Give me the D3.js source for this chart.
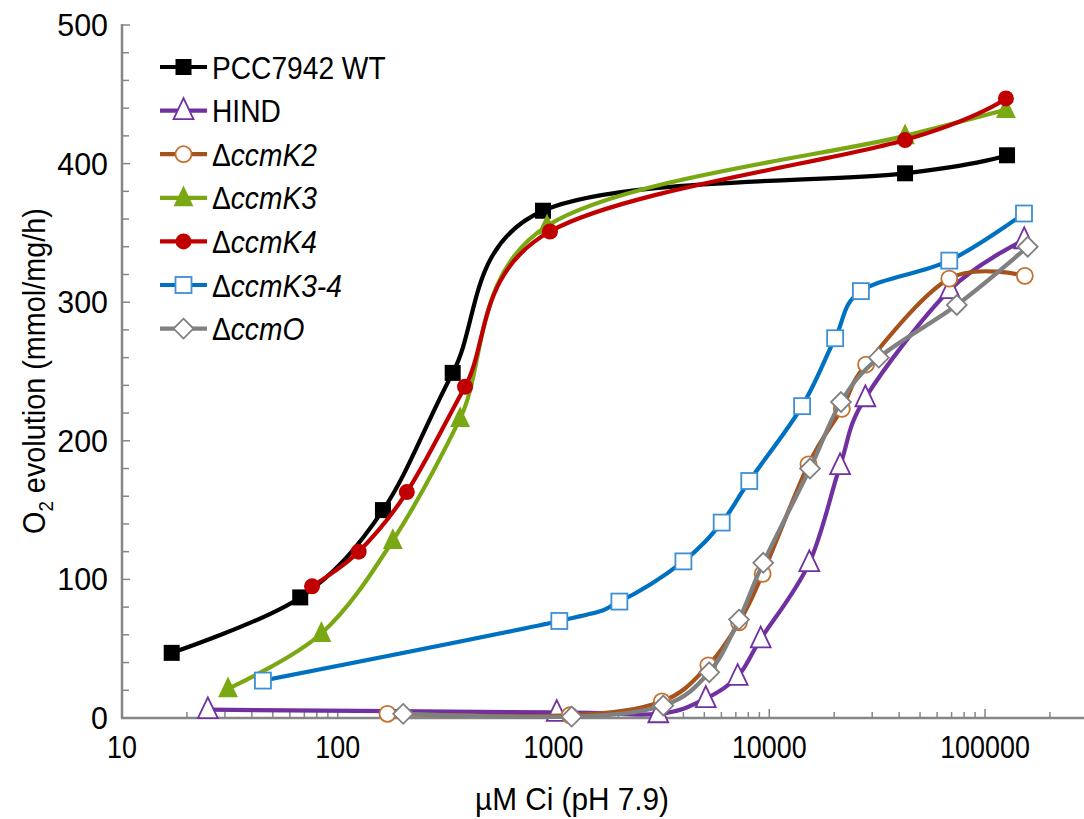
<!DOCTYPE html>
<html>
<head>
<meta charset="utf-8">
<script src="https://cdnjs.cloudflare.com/ajax/libs/d3/7.8.5/d3.min.js"></script>
<style>
  html, body { margin: 0; padding: 0; background: #fff; }
  svg { display: block; font-family: "Liberation Sans", Arial, sans-serif; }
</style>
</head>
<body>
<div id="chart"></div>
<script>
(function() {

    // values (x = uM Ci, y = O2 evolution)
    var wtX = [17, 67, 162, 341, 894, 42600, 126500];
    var wtY = [47, 87, 150, 249, 366, 393, 406];

    var hindX = [25, 1035, 3060, 5080, 7140, 9130, 15340, 21300, 27900, 68800, 152000];
    var hindY = [6, 4, 3, 14, 30, 57, 112, 182, 231, 309, 345];

    var k2X = [170, 1190, 3180, 5220, 7240, 9320, 15200, 21700, 28100, 68300, 153000];
    var k2Y = [3, 2, 12, 38, 69, 104, 183, 223, 255, 317, 319];

    var k3X = [31, 84, 180, 369, 933, 42600, 125000];
    var k3Y = [21, 61, 128, 216, 355, 420, 439];

    var k4X = [76, 125, 209, 389, 963, 42600, 125000];
    var k4Y = [95, 120, 163, 239, 351, 417, 447];

    var k34X = [45, 1064, 2020, 4000, 6020, 8080, 14200, 20200, 26600, 68300, 151600];
    var k34Y = [27, 70, 84, 113, 141, 171, 225, 274, 308, 330, 364];

    var oX = [201, 1214, 3230, 5270, 7240, 9380, 15450, 21500, 32200, 74000, 157800];
    var oY = [3, 1, 9, 33, 71, 112, 180, 228, 260, 298, 340];

    var seriesNames = ["PCC7942 WT", "HIND", "ccmK2", "ccmK3", "ccmK4", "ccmK3-4", "ccmO"];
    var xTicks = [10, 100, 1000, 10000, 100000];
    var yTicks = [0, 100, 200, 300, 400, 500];

    var series = [
        {name: seriesNames[0], delta: false, x: wtX, y: wtY, line: "#000000", stroke: "#000000", fill: "#000000", shape: "square"},
        {name: seriesNames[1], delta: false, x: hindX, y: hindY, line: "#7030a0", stroke: "#7030a0", fill: "#ffffff", shape: "triangle"},
        {name: seriesNames[2], delta: true, x: k2X, y: k2Y, line: "#a5521c", stroke: "#c4702e", fill: "#ffffff", shape: "circle"},
        {name: seriesNames[3], delta: true, x: k3X, y: k3Y, line: "#7aa812", stroke: "#7aa812", fill: "#7aa812", shape: "triangle"},
        {name: seriesNames[4], delta: true, x: k4X, y: k4Y, line: "#c00000", stroke: "#c00000", fill: "#c00000", shape: "circle"},
        {name: seriesNames[5], delta: true, x: k34X, y: k34Y, line: "#0070c0", stroke: "#3f8fd4", fill: "#ffffff", shape: "square"},
        {name: seriesNames[6], delta: true, x: oX, y: oY, line: "#808080", stroke: "#808080", fill: "#ffffff", shape: "diamond"}
    ];

    var w = 1084, h = 819;
    var left = 122, top = 25, bottom = 718;

    var xScale = d3.scaleLog().domain([10, 1000000]).range([left, left + 5 * 215.75]);
    var yScale = d3.scaleLinear().domain([0, 500]).range([bottom, top]);

    var svg = d3.select("#chart").append("svg")
        .attr("width", w)
        .attr("height", h);

    var axisColor = "#868686";

    // narrow text: the figure's labels are squeezed sideways
    function squeeze(x, y, sx) {
        return "translate(" + x + "," + y + ") scale(" + sx + ",1)";
    }

    // minor ticks on y (every 20)
    var yMinor = d3.range(0, 501, 20);
    svg.append("g").selectAll("line")
        .data(yMinor)
        .enter().append("line")
        .attr("x1", left)
        .attr("x2", function(d) { return left + (d % 100 === 0 ? 8 : 7); })
        .attr("y1", function(d) { return yScale(d); })
        .attr("y2", function(d) { return yScale(d); })
        .style("stroke", axisColor)
        .style("stroke-width", 1.5);

    // minor ticks on x (log 2..9)
    var xMinor = [];
    for (var e = 1; e < 6; e++) {
        for (var m = 1; m < 10; m++) {
            xMinor.push(m * Math.pow(10, e));
        }
    }
    svg.append("g").selectAll("line")
        .data(xMinor)
        .enter().append("line")
        .attr("x1", function(d) { return xScale(d); })
        .attr("x2", function(d) { return xScale(d); })
        .attr("y1", bottom)
        .attr("y2", function(d) { return bottom - (xTicks.indexOf(d) >= 0 ? 9 : 6); })
        .style("stroke", axisColor)
        .style("stroke-width", 1.5);

    // axis lines
    svg.append("line")
        .attr("x1", left).attr("x2", left)
        .attr("y1", top - 1).attr("y2", bottom)
        .style("stroke", axisColor)
        .style("stroke-width", 2.5);
    svg.append("line")
        .attr("x1", left - 1).attr("x2", w)
        .attr("y1", bottom).attr("y2", bottom)
        .style("stroke", axisColor)
        .style("stroke-width", 2.5);

    // tick labels
    svg.append("g").selectAll("text")
        .data(yTicks)
        .enter().append("text")
        .attr("transform", function(d) { return squeeze(108, yScale(d) + 11, 0.98); })
        .attr("text-anchor", "end")
        .style("font-size", "31px")
        .text(function(d) { return d; });

    svg.append("g").selectAll("text")
        .data(xTicks)
        .enter().append("text")
        .attr("transform", function(d) { return squeeze(xScale(d), 758, 0.84); })
        .attr("text-anchor", "middle")
        .style("font-size", "32px")
        .text(function(d) { return d; });

    // axis titles
    svg.append("text")
        .attr("transform", squeeze(572, 810, 0.93))
        .attr("text-anchor", "middle")
        .style("font-size", "32px")
        .text("\u00b5M Ci (pH 7.9)");

    var yTitle = svg.append("text")
        .attr("transform", "translate(45,371) rotate(-90) scale(0.93,1)")
        .attr("text-anchor", "middle")
        .style("font-size", "31px");
    yTitle.append("tspan").text("O");
    yTitle.append("tspan").attr("dy", 8).style("font-size", "20px").text("2");
    yTitle.append("tspan").attr("dy", -8).text(" evolution (mmol/mg/h)");

    // marker drawing
    function marker(sel, s, size) {
        var p;
        if (s.shape === "square") {
            p = sel.append("rect")
                .attr("x", -size / 2).attr("y", -size / 2)
                .attr("width", size).attr("height", size);
        } else if (s.shape === "circle") {
            p = sel.append("circle").attr("r", size / 2);
        } else if (s.shape === "triangle") {
            var t = size * 0.62;
            p = sel.append("path")
                .attr("d", "M0," + (-t * 1.25) + "L" + t + "," + (t * 0.85) + "L" + (-t) + "," + (t * 0.85) + "Z");
        } else {
            var dd = size * 0.62;
            p = sel.append("path")
                .attr("d", "M0," + (-dd) + "L" + dd + ",0L0," + dd + "L" + (-dd) + ",0Z");
        }
        p.style("fill", s.fill)
            .style("stroke", s.stroke)
            .style("stroke-width", s.fill === "#ffffff" ? 1.8 : 0);
    }

    var line = d3.line()
        .x(function(d) { return xScale(d[0]); })
        .y(function(d) { return yScale(d[1]); })
        .curve(d3.curveCardinal.tension(0));

    series.forEach(function(s) {
        var pts = s.x.map(function(v, i) { return [v, s.y[i]]; });
        var g = svg.append("g");

        g.append("path")
            .attr("d", line(pts))
            .style("fill", "none")
            .style("stroke", s.line)
            .style("stroke-width", 4.2)
            .style("stroke-linejoin", "round");

        g.selectAll("g.pt")
            .data(pts)
            .enter().append("g")
            .attr("class", "pt")
            .attr("transform", function(d) {
                return "translate(" + xScale(d[0]) + "," + yScale(d[1]) + ")";
            })
            .each(function() { marker(d3.select(this), s, 16); });
    });

    // legend
    var legend = svg.append("g");
    series.forEach(function(s, i) {
        var ly = 67 + i * 43.6;
        legend.append("line")
            .attr("x1", 160).attr("x2", 207)
            .attr("y1", ly).attr("y2", ly)
            .style("stroke", s.line)
            .style("stroke-width", 4.2);
        var mg = legend.append("g").attr("transform", "translate(183.5," + ly + ")");
        marker(mg, s, 16);

        var t = legend.append("text")
            .attr("transform", squeeze(212, ly + 11.5, 0.88))
            .style("font-size", "32px");
        if (s.delta) {
            t.append("tspan").text("\u0394");
            t.append("tspan").style("font-style", "italic").text(s.name);
        } else {
            t.text(s.name);
        }
    });

})();
</script>
</body>
</html>
